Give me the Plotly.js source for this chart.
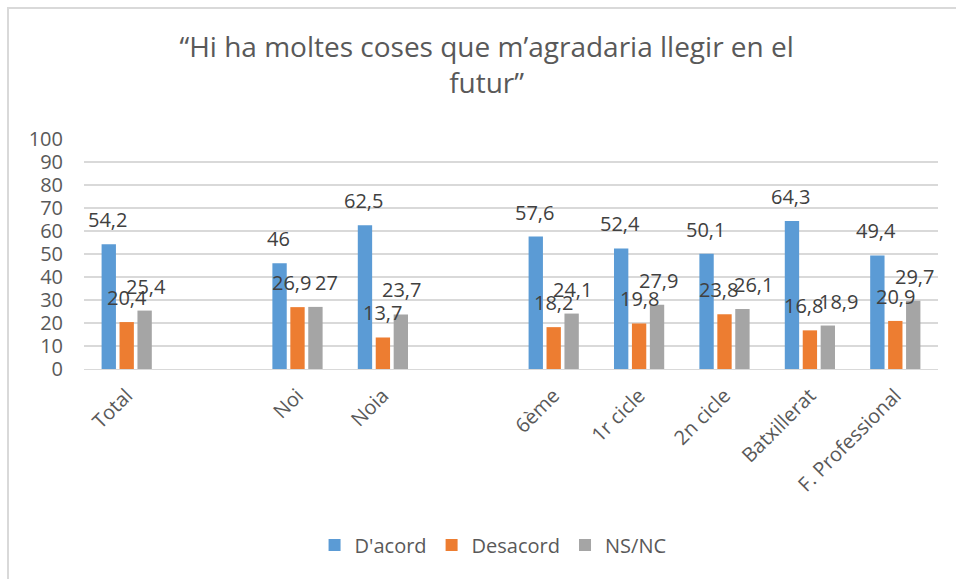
<!DOCTYPE html>
<html>
<head>
<meta charset="utf-8">
<script src="https://cdn.plot.ly/plotly-3.0.1.min.js"></script>
<style>
  html, body { margin: 0; padding: 0; background: #fff; }
  #frame { position: absolute; left: 7px; top: 7px; width: 960px; height: 590px;
           border-left: 2px solid #d9d9d9; border-top: 2px solid #d9d9d9; }
  #chart { position: absolute; left: 0; top: 0; width: 956px; height: 579px; }
</style>
</head>
<body>
<div id="frame"></div>
<div id="chart"></div>
<script>
// Data
const categories = ['Total', ' ', 'Noi', 'Noia', '  ', '6ème', '1r cicle', '2n cicle', 'Batxillerat', 'F. Professional'];
const dacord   = [54.2, null, 46,   62.5, null, 57.6, 52.4, 50.1, 64.3, 49.4];
const desacord = [20.4, null, 26.9, 13.7, null, 18.2, 19.8, 23.8, 16.8, 20.9];
const nsnc     = [25.4, null, 27,   23.7, null, 24.1, 27.9, 26.1, 18.9, 29.7];
const seriesNames = ["D'acord", 'Desacord', 'NS/NC'];
const seriesColors = ['#5B9BD5', '#ED7D31', '#A5A5A5'];
const yTicks = [0, 10, 20, 30, 40, 50, 60, 70, 80, 90, 100];

const font = 'Open Sans, Liberation Sans, sans-serif';
const txt = '#595959';
const allSeries = [dacord, desacord, nsnc];

const traces = allSeries.map((vals, i) => ({
  type: 'bar',
  name: seriesNames[i],
  x: categories,
  y: vals,
  marker: { color: seriesColors[i] },
  hoverinfo: 'skip'
}));

// Data labels placed at the data values; when the orange and grey labels
// would collide, nudge them apart sideways (as the spreadsheet did).
const slot = 19;
const annotations = [];
allSeries.forEach((vals, i) => {
  vals.forEach((v, j) => {
    if (v === null) return;
    let nudge = 0;
    const close = Math.abs(desacord[j] - nsnc[j]) < 3;
    if (close && i === 1) nudge = -6;
    if (close && i === 2) nudge = 10;
    annotations.push({
      x: categories[j], y: v, xref: 'x', yref: 'y',
      text: String(v).replace('.', ','),
      showarrow: false, yanchor: 'bottom', xanchor: 'center',
      xshift: (i - 1) * slot + nudge, yshift: 9,
      font: { family: font, size: 20, color: '#404040' }
    });
  });
});

const layout = {
  width: 956, height: 579,
  paper_bgcolor: 'rgba(0,0,0,0)', plot_bgcolor: 'rgba(0,0,0,0)',
  margin: { l: 84, r: 18, t: 139, b: 210 },
  title: {
    text: '“Hi ha moltes coses que m’agradaria llegir en el<br>futur”',
    font: { family: font, size: 28, color: txt },
    x: 0.509, xanchor: 'center', xref: 'container',
    y: 0.902, yanchor: 'middle', yref: 'container'
  },
  barmode: 'group',
  bargap: 0.37,
  bargroupgap: 0.2,
  xaxis: {
    type: 'category',
    tickangle: -45,
    tickfont: { family: font, size: 20, color: txt },
    showgrid: false, showline: true, linecolor: '#d9d9d9', linewidth: 1,
    ticks: '', ticklabelstandoff: 6
  },
  yaxis: {
    range: [0, 100],
    tickvals: yTicks,
    tickfont: { family: font, size: 20, color: txt },
    showgrid: true, gridcolor: '#d9d9d9', gridwidth: 1.5,
    zeroline: false, showline: false, ticks: '',
    ticklabelstandoff: 20
  },
  legend: {
    orientation: 'h', x: 0.479, xanchor: 'center', y: -0.765, yanchor: 'middle',
    font: { family: font, size: 20, color: txt },
    itemwidth: 30, traceorder: 'normal'
  },
  annotations: annotations,
  showlegend: true
};

Plotly.newPlot('chart', traces, layout, { displayModeBar: false, staticPlot: true });
</script>
</body>
</html>
